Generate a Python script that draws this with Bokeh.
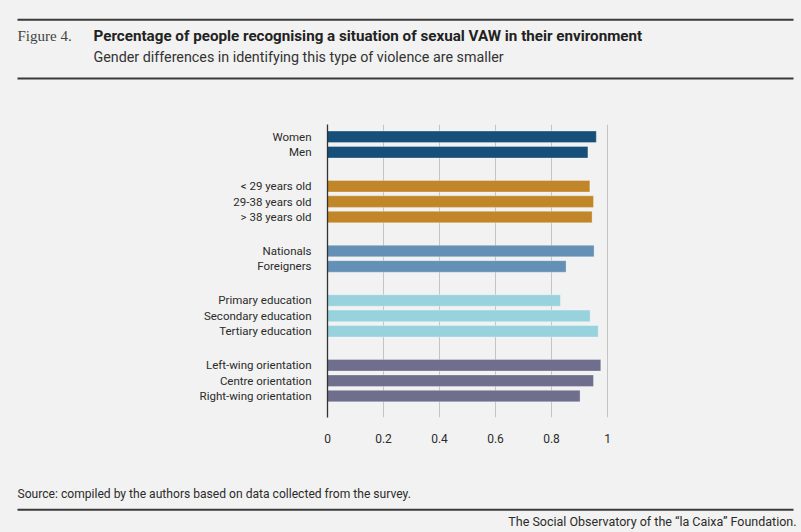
from bokeh.plotting import figure
from bokeh.layouts import column
from bokeh.models import Range1d, FixedTicker, CustomJSTickFormatter
from bokeh.core.properties import value
from bokeh.embed import file_html
from bokeh.resources import INLINE

# ---------------- data ----------------
labels = ["Women", "Men",
          "< 29 years old", "29-38 years old", "> 38 years old",
          "Nationals", "Foreigners",
          "Primary education", "Secondary education", "Tertiary education",
          "Left-wing orientation", "Centre orientation", "Right-wing orientation"]
values = [0.960, 0.930,
          0.937, 0.950, 0.945,
          0.952, 0.852,
          0.832, 0.938, 0.967,
          0.976, 0.950, 0.902]
groups = [0, 0, 1, 1, 1, 2, 2, 3, 3, 3, 4, 4, 4]
group_colors = ["#164f79", "#c1862a", "#6490b5", "#98d3dd", "#6f6f8d"]
x_ticks = [0, 0.2, 0.4, 0.6, 0.8, 1]

fig_label = "Figure 4."
title = "Percentage of people recognising a situation of sexual VAW in their environment"
subtitle = "Gender differences in identifying this type of violence are smaller"
source = "Source: compiled by the authors based on data collected from the survey."
footer = "The Social Observatory of the \u201cla Caixa\u201d Foundation."

BG = "#f2f2f2"
RULE = "#3a3a3a"
TXT = "#2b2b2b"
W = 801

# row positions (integers, 100 per bar, extra gap between groups)
ROW = 100
GAP = 121
ypos = [i * ROW + g * GAP for i, g in enumerate(groups)]
colors = [group_colors[g] for g in groups]


def blank_fig(h):
    f = figure(frame_width=W, frame_height=h, x_range=Range1d(0, W), y_range=Range1d(h, 0),
               min_border=0, min_border_left=0, min_border_right=0, min_border_top=0,
               min_border_bottom=0, x_axis_type=None, y_axis_type=None,
               output_backend="svg", toolbar_location=None, frame_align=False,
               background_fill_color=BG, border_fill_color=BG, outline_line_color=None)
    f.grid.visible = False
    return f


# ---------------- header ----------------
header = blank_fig(90)
header.segment(x0=[17, 17], y0=[19.3, 78], x1=[793, 793], y1=[19.3, 78],
               line_color=RULE, line_width=2)
header.text(x=[17], y=[35], text=[fig_label], text_font=value("Liberation Serif"),
            text_font_size="15px", text_color="#444444", text_baseline="middle")
header.text(x=[93], y=[35], text=[title], text_font=value("Roboto"),
            text_font_size="15.2px", text_font_style="bold", text_color="#222222",
            text_baseline="middle")
header.text(x=[93], y=[56], text=[subtitle], text_font=value("Roboto"),
            text_font_size="14.3px", text_color="#333333", text_baseline="middle")

# ---------------- main chart ----------------
p = figure(frame_width=283, frame_height=293,
           x_range=Range1d(0, 283 / 280), y_range=Range1d(1823, -80),
           min_border_left=327, min_border_right=191, min_border_top=34, min_border_bottom=53,
           output_backend="svg", toolbar_location=None, frame_align=False,
           background_fill_color=BG, border_fill_color=BG, outline_line_color=None)

p.hbar(y=ypos, right=values, left=0, height=75, fill_color=colors,
       line_color="white", line_alpha=0.3, line_width=1)

p.ygrid.visible = False
p.xgrid.ticker = FixedTicker(ticks=x_ticks)
p.xgrid.grid_line_color = "#c4c4c4"
p.xgrid.grid_line_width = 1

xa = p.xaxis[0]
xa.ticker = FixedTicker(ticks=x_ticks)
xa.formatter = CustomJSTickFormatter(code="return String(tick);")
xa.axis_line_color = None
xa.major_tick_line_color = None
xa.minor_tick_line_color = None
xa.major_label_standoff = 10
xa.major_label_text_font = "Roboto"
xa.major_label_text_font_size = "12px"
xa.major_label_text_color = TXT

ya = p.yaxis[0]
ya.ticker = FixedTicker(ticks=ypos)
ya.major_label_overrides = {y: lab for y, lab in zip(ypos, labels)}
ya.axis_line_color = "#333333"
ya.axis_line_width = 1.3
ya.major_tick_line_color = None
ya.minor_tick_line_color = None
ya.major_label_standoff = 10
ya.major_label_text_font = "Roboto"
ya.major_label_text_font_size = "11.5px"
ya.major_label_text_color = TXT

# ---------------- footer ----------------
foot = blank_fig(62)
foot.text(x=[17], y=[23], text=[source], text_font=value("Roboto"),
          text_font_size="12.1px", text_color=TXT, text_baseline="middle")
foot.segment(x0=[17], y0=[39.3], x1=[793], y1=[39.3], line_color=RULE, line_width=2)
foot.text(x=[796], y=[51], text=[footer], text_font=value("Roboto"),
          text_font_size="12.5px", text_color=TXT, text_baseline="middle", text_align="right")

layout = column(header, p, foot, spacing=0)

html = file_html(layout, INLINE)
html = html.replace("</head>",
                    "<style>html,body{background:#f2f2f2;margin:0;padding:0;}</style></head>", 1)
with open("out.html", "w") as f:
    f.write(html)
